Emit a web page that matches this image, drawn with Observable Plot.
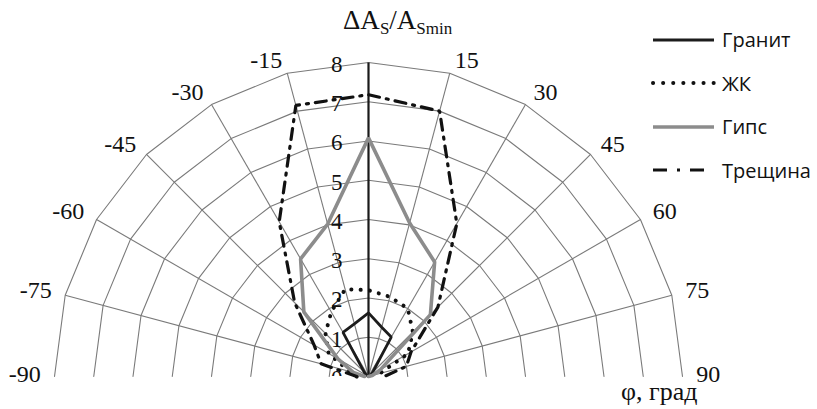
<!DOCTYPE html>
<html>
<head>
<meta charset="utf-8">
<script src="https://cdn.jsdelivr.net/npm/d3@7"></script>
<script src="https://cdn.jsdelivr.net/npm/@observablehq/plot@0.6"></script>
<style>
  html, body { margin: 0; padding: 0; background: #fff; }
  #wrap { position: relative; width: 817px; height: 409px; overflow: hidden; background: #fff; }
  #chart { position: absolute; left: 0; top: 0; }
  .serif { font-family: "Liberation Serif", "DejaVu Serif", serif; color: #111; position: absolute; white-space: nowrap; }
  #title { left: 343px; top: 5px; font-size: 27px; line-height: 30px; }
  #title sub { font-size: 17px; vertical-align: -5px; line-height: 0; }
  #xlabel { left: 621px; top: 378px; font-size: 26px; line-height: 28px; }
  #legend { position: absolute; left: 650px; top: 18px; font-family: "Open Sans", "Liberation Sans", sans-serif; font-size: 20px; color: #111; }
  .item { display: flex; align-items: center; height: 43.5px; }
  .item svg { width: 66px; height: 12px; margin-right: 6px; }
</style>
</head>
<body>
<div id="wrap">
  <div id="chart"></div>
  <div id="title" class="serif">ΔA<sub>S</sub>/A<sub>Smin</sub></div>
  <div id="xlabel" class="serif">φ, град</div>
  <div id="legend"></div>
</div>
<script>
// ---- data ----
const angles = [-90, -75, -60, -45, -30, -15, 0, 15, 30, 45, 60, 75, 90];
const granite = [0, 0, 0.05, 0.15, 1.3, 1.39, 1.62, 1.3, 1.16, 0.15, 0.05, 0, 0];
const zhk     = [0.3, 0.5, 1.17, 1.55, 1.9, 2.3, 2.2, 2.1, 2.0, 1.6, 1.16, 0.3, 0.2];
const gypsum  = [0.1, 0.4, 0.9, 2.33, 3.46, 4.02, 6.08, 4.05, 3.37, 2.23, 0.35, 0.1, 0];
const crack   = [0.3, 1.25, 1.6, 2.66, 4.55, 7.15, 7.18, 7.0, 4.5, 2.5, 1.25, 1.0, 0.4];
const seriesNames = ["Гранит", "ЖК", "Гипс", "Трещина"];
const ringValues = [1, 2, 3, 4, 5, 6, 7, 8];
const radialTicks = [0, 1, 2, 3, 4, 5, 6, 7, 8];
const spokeAngles = [-75, -60, -45, -30, -15, 15, 30, 45, 60, 75];
const angleTickLabels = [-90, -75, -60, -45, -30, -15, 15, 30, 45, 60, 75, 90];
const rMax = 8;

// ---- helpers ----
const rad = a => a * Math.PI / 180;
const px = (a, r) => r * Math.sin(rad(a));
const py = (a, r) => r * Math.cos(rad(a));
const rows = vals => angles.map((a, i) => ({a, r: vals[i]}));

const ringRows = ringValues.flatMap(v => angles.map(a => ({v, a})));

const styles = {
  "Гранит": {stroke: "#1c1c1c", strokeWidth: 2.8},
  "ЖК": {stroke: "#111", strokeWidth: 4, strokeDasharray: "0.1 9.2", strokeLinecap: "round"},
  "Гипс": {stroke: "#8c8c8c", strokeWidth: 3.6},
  "Трещина": {stroke: "#111", strokeWidth: 3.2, strokeDasharray: "11 7 2 7"}
};
const seriesData = {"Гранит": granite, "ЖК": zhk, "Гипс": gypsum, "Трещина": crack};

const serif = "Liberation Serif, DejaVu Serif, serif";

const plot = Plot.plot({
  width: 817,
  height: 409,
  marginLeft: 54,
  marginRight: 135,
  marginTop: 42.4,
  marginBottom: 33,
  x: {domain: [-rMax, rMax], axis: null},
  y: {domain: [0, 8.5], axis: null},
  style: {background: "white", overflow: "visible"},
  marks: [
    // rings
    Plot.line(ringRows, {x: d => px(d.a, d.v), y: d => py(d.a, d.v), z: "v", stroke: "#7a7a7a", strokeWidth: 1.1}),
    // spokes
    Plot.link(spokeAngles, {x1: () => 0, y1: () => 0, x2: a => px(a, rMax), y2: a => py(a, rMax), stroke: "#7a7a7a", strokeWidth: 1.1}),
    // value axis (0°)
    Plot.link([0], {x1: () => 0, y1: () => 0, x2: a => px(a, rMax), y2: a => py(a, rMax), stroke: "#1a1a1a", strokeWidth: 2.2}),
    // radial tick labels
    Plot.text(radialTicks, {x: () => 0, y: d => d, text: d => String(d), textAnchor: "end", dx: -26, dy: 2, fontSize: 23, fontFamily: serif, fill: "#111", clip: true}),
    // angle labels
    Plot.text(angleTickLabels.filter(a => a < 0), {x: a => px(a, 8.3), y: a => py(a, 8.3), text: a => String(a), textAnchor: "end", dx: -2, dy: -2, fontSize: 24, fontFamily: serif, fill: "#111"}),
    Plot.text(angleTickLabels.filter(a => a > 0), {x: a => px(a, 8.3), y: a => py(a, 8.3), text: a => String(a), textAnchor: "start", dx: 2, dy: -2, fontSize: 24, fontFamily: serif, fill: "#111"}),
    // series
    ...seriesNames.map(name => Plot.line(rows(seriesData[name]), {
      x: d => px(d.a, d.r), y: d => py(d.a, d.r), strokeLinejoin: "miter", ...styles[name]
    }))
  ]
});
document.getElementById("chart").appendChild(plot);

// ---- legend ----
const legend = document.getElementById("legend");
const legendDash = {"Трещина": "14 10 3 10", "ЖК": "0.1 10"};
for (const name of seriesNames) {
  const s = styles[name];
  const item = document.createElement("div");
  item.className = "item";
  const dash = legendDash[name] || s.strokeDasharray || "none";
  item.innerHTML = `<svg viewBox="0 0 66 12"><line x1="3" y1="6" x2="64" y2="6" stroke="${s.stroke}" stroke-width="${s.strokeWidth}" stroke-dasharray="${dash}" stroke-linecap="${s.strokeLinecap || "butt"}"/></svg><span>${name}</span>`;
  legend.appendChild(item);
}
</script>
</body>
</html>
